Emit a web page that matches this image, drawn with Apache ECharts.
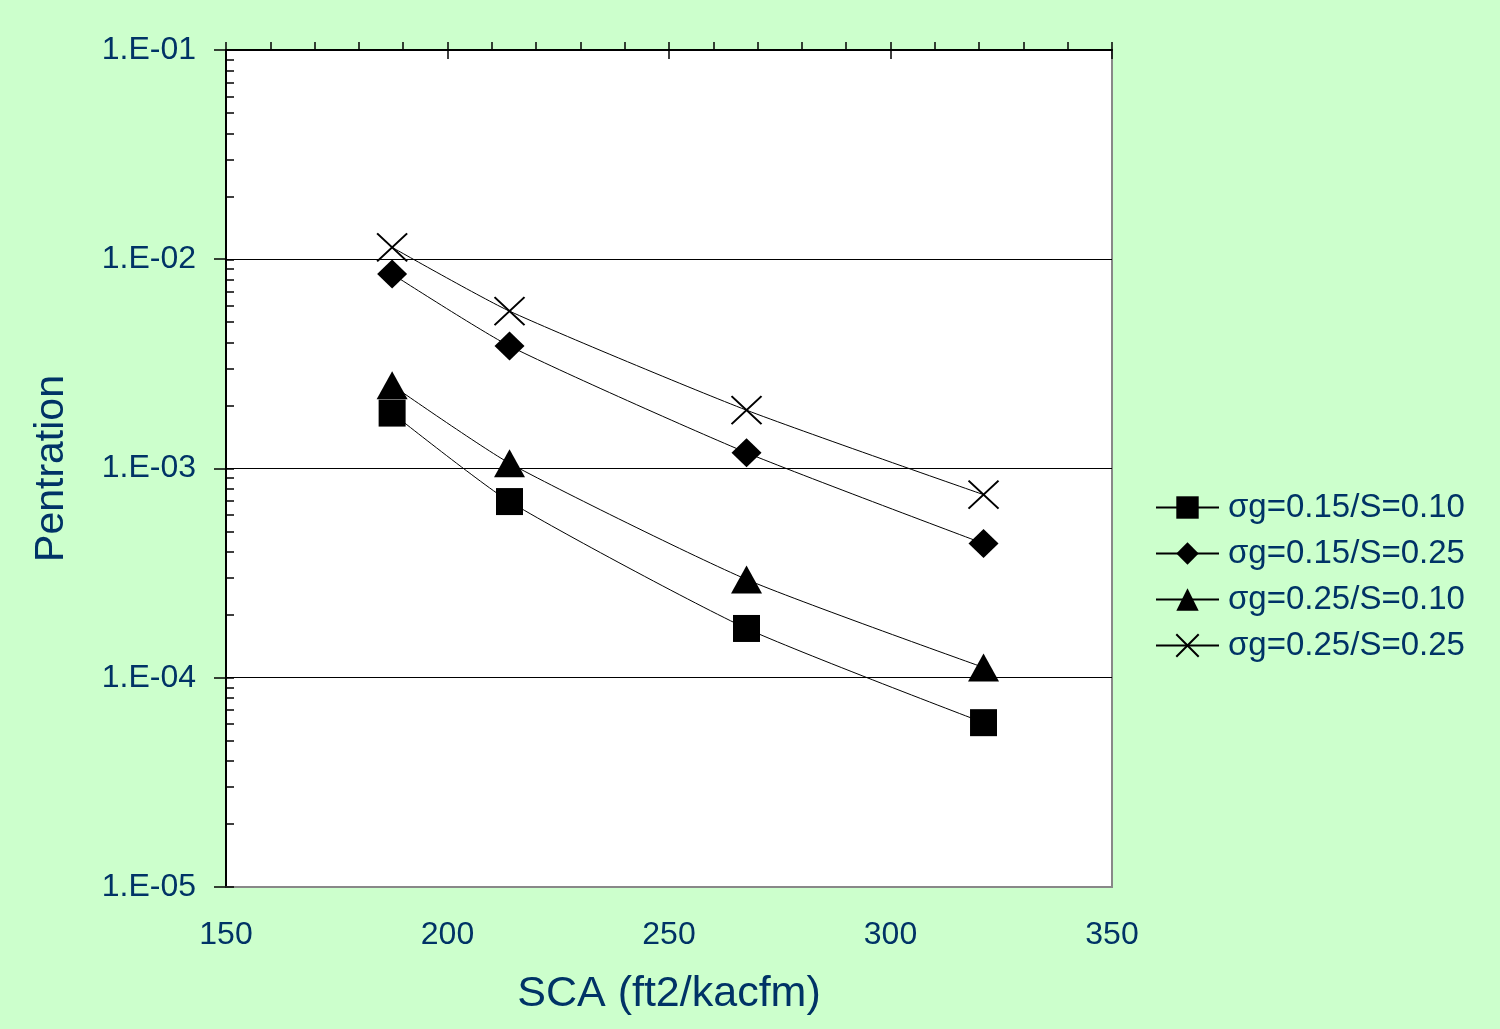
<!DOCTYPE html>
<html>
<head>
<meta charset="utf-8">
<script src="https://cdn.jsdelivr.net/npm/echarts@6/dist/echarts.min.js"></script>
<style>
html,body{margin:0;padding:0;background:#CCFFCC;}
#chart{width:1500px;height:1029px;}
</style>
</head>
<body>
<div id="chart"></div>
<script>
// ---- data ----
const sca = [187.5, 214, 267.5, 321];
const seriesNames = ['σg=0.15/S=0.10', 'σg=0.15/S=0.25', 'σg=0.25/S=0.10', 'σg=0.25/S=0.25'];
const pen_015_010 = [1.84e-3, 6.95e-4, 1.72e-4, 6.1e-5];
const pen_015_025 = [8.5e-3, 3.85e-3, 1.19e-3, 4.38e-4];
const pen_025_010 = [2.5e-3, 1.06e-3, 2.95e-4, 1.12e-4];
const pen_025_025 = [1.14e-2, 5.65e-3, 1.9e-3, 7.5e-4];
const xTicks = [150, 200, 250, 300, 350];
const yTickLabels = ['1.E-05', '1.E-04', '1.E-03', '1.E-02', '1.E-01'];

const TXT = '#003366';
const FONT = '"Liberation Sans", Arial, sans-serif';

// minor tick positions in log10 space (axis structure)
const minorPos = [];
for (let n = -5; n < -1; n++) {
  for (let k = 1; k <= 9; k++) minorPos.push(n + Math.log10(k));
}
minorPos.push(-1);

function pairs(vals) { return sca.map((x, i) => [x, vals[i]]); }

const xPath = 'path://M0 0L10 10M10 0L0 10';
const symbols = ['rect', 'diamond', 'triangle', xPath];
const sizes = [[27, 27], [30, 29], [31, 28], [30, 28]];
const allVals = [pen_015_010, pen_015_025, pen_025_010, pen_025_025];

const series = allVals.map((vals, i) => ({
  name: seriesNames[i],
  type: 'line',
  xAxisIndex: 0,
  yAxisIndex: 0,
  data: pairs(vals),
  smooth: 0.2,
  symbol: symbols[i],
  symbolSize: sizes[i],
  showAllSymbol: true,
  lineStyle: { color: '#000', width: 1 },
  itemStyle: i === 3
    ? { color: '#000', borderColor: '#000', borderWidth: 2 }
    : { color: '#000', borderWidth: 0 },
  emphasis: { disabled: true },
  z: 5
}));

const chart = echarts.init(document.getElementById('chart'), null, { renderer: 'canvas' });
chart.setOption({
  backgroundColor: '#CCFFCC',
  animation: false,
  textStyle: { fontFamily: FONT, color: TXT },
  grid: {
    left: 226, top: 50, width: 886, height: 837,
    show: true, backgroundColor: '#ffffff', borderColor: '#888888', borderWidth: 2
  },
  legend: {
    orient: 'vertical',
    left: 1150,
    top: 486,
    itemWidth: 63,
    itemHeight: 28,
    itemGap: 13,
    data: seriesNames,
    textStyle: { fontFamily: FONT, fontSize: 33, color: TXT, padding: [0, 0, 0, 4] }
  },
  xAxis: [
    {
      type: 'value', min: 150, max: 350, interval: 50, position: 'bottom',
      name: 'SCA (ft2/kacfm)', nameLocation: 'middle', nameGap: 86,
      nameTextStyle: { fontFamily: FONT, fontSize: 43, color: TXT },
      axisLine: { show: true, lineStyle: { color: '#888888', width: 2 } },
      axisTick: { show: false },
      axisLabel: { margin: 32, fontFamily: FONT, fontSize: 32, color: TXT,
        formatter: v => String(xTicks[xTicks.indexOf(v)]) },
      splitLine: { show: false }
    },
    {
      type: 'value', min: 150, max: 350, interval: 10, position: 'top',
      axisLine: { show: true, lineStyle: { color: '#000', width: 2 } },
      axisTick: { show: true, inside: false, length: 8, lineStyle: { color: '#000', width: 1.5 } },
      axisLabel: { show: false },
      splitLine: { show: false }
    },
    {
      type: 'value', min: 150, max: 350, interval: 50, position: 'top',
      axisLine: { show: false },
      axisTick: { show: true, inside: true, length: 9, lineStyle: { color: '#000', width: 1.5 } },
      axisLabel: { show: false },
      splitLine: { show: false }
    }
  ],
  yAxis: [
    {
      type: 'log', logBase: 10, min: 1e-5, max: 1e-1, position: 'left',
      name: 'Pentration', nameLocation: 'middle', nameGap: 154, nameRotate: 90,
      nameTextStyle: { fontFamily: FONT, fontSize: 41, color: TXT },
      axisLine: { show: true, lineStyle: { color: '#000', width: 2 } },
      axisTick: { show: true, inside: false, length: 12, lineStyle: { color: '#000', width: 1.5 } },
      axisLabel: {
        margin: 30, fontFamily: FONT, fontSize: 32, color: TXT,
        formatter: v => yTickLabels[Math.round(Math.log10(v)) + 5]
      },
      splitLine: { show: true, lineStyle: { color: '#000', width: 1 } }
    },
    {
      type: 'value', min: -5, max: -1, position: 'left',
      axisLine: { show: false },
      axisTick: { show: true, inside: true, length: 8, customValues: minorPos,
        lineStyle: { color: '#000', width: 1.5 } },
      axisLabel: { show: false },
      splitLine: { show: false }
    }
  ],
  series: series
});
</script>
</body>
</html>
